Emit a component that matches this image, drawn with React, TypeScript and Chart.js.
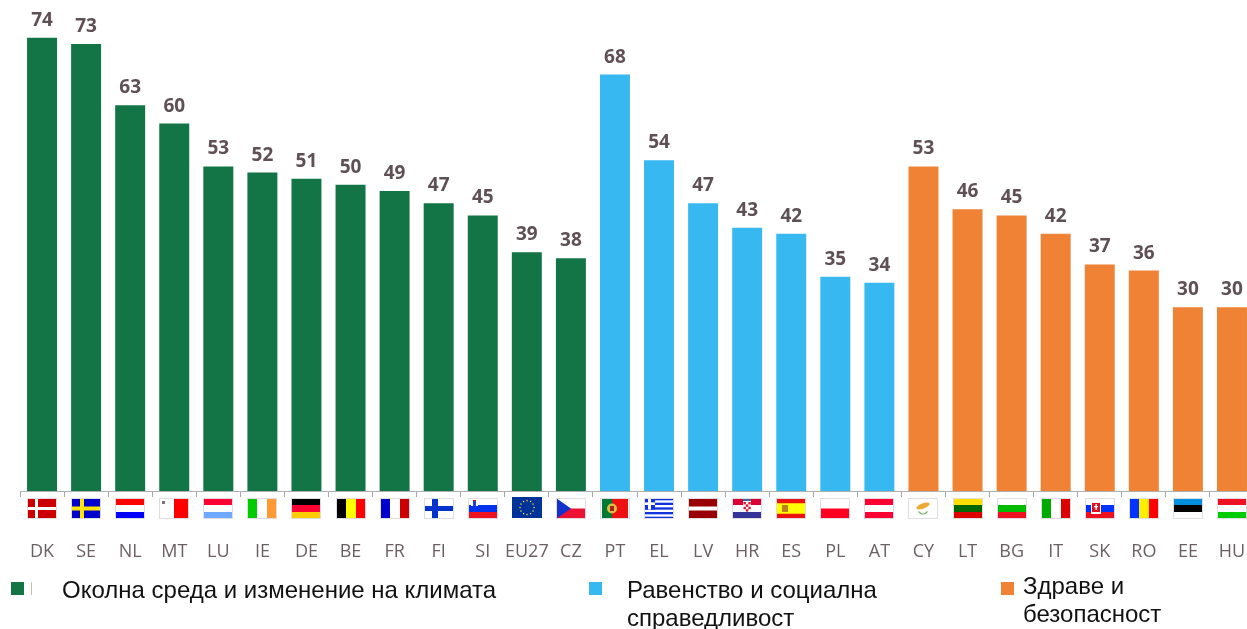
import React, { useEffect, useRef } from "react";
import { Chart, registerables } from "chart.js";

Chart.register(...registerables);

const envLabels = ["DK", "SE", "NL", "MT", "LU", "IE", "DE", "BE", "FR", "FI", "SI", "EU27", "CZ"];
const envValues = [74, 73, 63, 60, 53, 52, 51, 50, 49, 47, 45, 39, 38];
const equalityLabels = ["PT", "EL", "LV", "HR", "ES", "PL", "AT"];
const equalityValues = [68, 54, 47, 43, 42, 35, 34];
const healthLabels = ["CY", "LT", "BG", "IT", "SK", "RO", "EE", "HU"];
const healthValues = [53, 46, 45, 42, 37, 36, 30, 30];

const categories = [...envLabels, ...equalityLabels, ...healthLabels];

const GREEN = "#137545";
const BLUE = "#38b8f0";
const ORANGE = "#ef8234";
const TEXT = "#6b5f63";
const LABEL = "#5e5054";

const pad = (vals: number[], before: number, after: number) => [
  ...Array(before).fill(null),
  ...vals,
  ...Array(after).fill(null),
];

type Ctx = CanvasRenderingContext2D;
const hStripes: Record<string, string[]> = {
  NL: ["#ff0000", "#ffffff", "#0000ff"],
  LU: ["#ff0033", "#ffffff", "#6ea8ff"],
  DE: ["#000000", "#ff0033", "#ffcc00"],
  SI: ["#ffffff", "#0033ee", "#ee1122"],
  HR: ["#dd0033", "#ffffff", "#333399"],
  AT: ["#ff0033", "#ffffff", "#ff0033"],
  PL: ["#ffffff", "#ff0022"],
  LT: ["#ffdd00", "#006600", "#dd0000"],
  BG: ["#ffffff", "#00bb00", "#ee1122"],
  SK: ["#ffffff", "#0033ff", "#ee1122"],
  EE: ["#0090e0", "#000000", "#ffffff"],
  HU: ["#ee1122", "#ffffff", "#00cc00"],
};
const vStripes: Record<string, string[]> = {
  MT: ["#ffffff", "#ff0000"],
  IE: ["#00cc00", "#ffffff", "#ff9933"],
  BE: ["#000000", "#ffff00", "#ff0000"],
  FR: ["#0000cc", "#ffffff", "#cc0000"],
  IT: ["#00aa00", "#ffffff", "#dd0000"],
  RO: ["#0033ff", "#ffee00", "#ff0000"],
};

function drawFlag(c: Ctx, code: string, cx: number, top: number) {
  const w = 30, h = 21;
  const x = Math.round(cx - w / 2), y = top;
  c.save();
  c.fillStyle = "#ffffff";
  c.fillRect(x, y, w, h);
  const r = (a: number, b: number, ww: number, hh: number, col: string) => {
    c.fillStyle = col;
    c.fillRect(x + a, y + b, ww, hh);
  };
  if (code === "LV") {
    r(0, 0, w, 8.5, "#990000");
    r(0, 12.5, w, 8.5, "#990000");
  } else if (hStripes[code]) {
    const s = hStripes[code];
    s.forEach((col, i) => r(0, (i * h) / s.length, w, h / s.length, col));
  } else if (vStripes[code]) {
    const s = vStripes[code];
    s.forEach((col, i) => r((i * w) / s.length, 0, w / s.length, h, col));
  } else if (code === "DK") {
    r(0, 0, w, h, "#cc0000");
    r(8, 0, 3, h, "#ffffff");
    r(0, 9, w, 3, "#ffffff");
  } else if (code === "SE") {
    r(0, 0, w, h, "#0000cc");
    r(9, 0, 4, h, "#ffe600");
    r(0, 8.5, w, 4, "#ffe600");
  } else if (code === "FI") {
    r(8, 0, 6, h, "#0033cc");
    r(0, 8, w, 5, "#0033cc");
  } else if (code === "EU27") {
    r(0, -1, w, h, "#003399");
    c.fillStyle = "#ffdd33";
    for (let i = 0; i < 12; i++) {
      const a = (i * Math.PI) / 6;
      c.fillRect(x + 15 + Math.cos(a) * 7 - 0.6, y + 9.5 + Math.sin(a) * 7 - 0.6, 1.3, 1.3);
    }
  } else if (code === "CZ") {
    r(0, 10.5, w, 10.5, "#ee1133");
    c.fillStyle = "#1133cc";
    c.beginPath();
    c.moveTo(x, y);
    c.lineTo(x + 15, y + 10.5);
    c.lineTo(x, y + 21);
    c.fill();
  } else if (code === "PT") {
    r(2, 0, 10, h, "#007a33");
    r(12, 0, 16, h, "#ee1111");
    c.fillStyle = "#d8c040";
    c.beginPath();
    c.arc(x + 12, y + 10.5, 5, 0, Math.PI * 2);
    c.fill();
    c.fillStyle = "#aa2222";
    c.fillRect(x + 10, y + 8, 4, 5);
  } else if (code === "EL") {
    for (let i = 0; i < 9; i += 2) r(0, (i * h) / 9, w, h / 9, "#1133dd");
    r(0, 0, 11, 11.6, "#1133dd");
    r(4, 0, 3, 11.6, "#ffffff");
    r(0, 4.4, 11, 2.6, "#ffffff");
  } else if (code === "ES") {
    r(0, 0, w, h, "#ee1111");
    r(0, 5.25, w, 10.5, "#ffff00");
    r(6, 7, 6, 7, "#c08020");
  } else if (code === "CY") {
    c.fillStyle = "#eeaa33";
    c.beginPath();
    c.ellipse(x + 15, y + 8, 7, 2.6, -0.35, 0, Math.PI * 2);
    c.fill();
    c.strokeStyle = "#77bb66";
    c.lineWidth = 1.2;
    c.beginPath();
    c.arc(x + 15, y + 11, 5, 0.5, Math.PI - 0.5);
    c.stroke();
  }
  if (code === "MT") {
    r(3, 3, 3, 3, "#777777");
  }
  if (code === "HR") {
    r(11, 3, 8, 11, "#ffffff");
    for (let i = 0; i < 3; i++)
      for (let j = 0; j < 4; j++)
        if ((i + j) % 2 === 0) r(11.5 + i * 2.4, 4 + j * 2.4, 2.4, 2.4, "#dd1133");
    r(11, 1, 8, 2, "#446699");
  }
  if (code === "SI") {
    r(3, 2, 7, 6, "#ffffff");
    r(5, 3, 3, 5, "#2244cc");
    r(5, 2, 3, 1, "#ee1122");
  }
  if (code === "SK") {
    c.fillStyle = "#ffffff";
    c.fillRect(x + 6, y + 4, 10, 12);
    c.fillStyle = "#dd1122";
    c.fillRect(x + 7, y + 5, 8, 9);
    c.fillStyle = "#ffffff";
    c.fillRect(x + 10.5, y + 6, 1.4, 6);
    c.fillRect(x + 9, y + 8, 4, 1.3);
  }
  c.strokeStyle = "#dfdde2";
  c.lineWidth = 1;
  if (code !== "EU27") c.strokeRect(x + 0.5, y + 0.5, w - 1, h - 1);
  c.restore();
}

const flagsPlugin = {
  id: "flags",
  afterDraw(chart: any) {
    const xs = chart.scales.x;
    categories.forEach((code, i) => {
      drawFlag(chart.ctx, code, xs.getPixelForValue(i), xs.top + 7);
    });
  },
};

const valueLabelsPlugin = {
  id: "valueLabels",
  afterDatasetsDraw(chart: any) {
    const c: Ctx = chart.ctx;
    c.save();
    c.font = '700 19px "Open Sans"';
    c.fillStyle = LABEL;
    c.textAlign = "center";
    c.textBaseline = "alphabetic";
    chart.data.datasets.forEach((ds: any, di: number) => {
      chart.getDatasetMeta(di).data.forEach((el: any, i: number) => {
        if (ds.data[i] == null) return;
        c.fillText(String(ds.data[i]), el.x, el.y - 12);
      });
    });
    c.restore();
  },
};

const legendFont = '"Liberation Sans", Arial, sans-serif';
const legendItems = [
  { lines: ["Околна среда и изменение на климата"], color: GREEN, sx: 11, tx: 62, top: 576, sy: 582 },
  { lines: ["Равенство и социална", "справедливост"], color: BLUE, sx: 589, tx: 627, top: 576, sy: 582 },
  { lines: ["Здраве и", "безопасност"], color: ORANGE, sx: 1001, tx: 1023, top: 572, sy: 582 },
];

export default function App() {
  const ref = useRef<HTMLCanvasElement>(null);
  useEffect(() => {
    document.body.style.margin = "0";
    const chart = new Chart(ref.current!, {
      type: "bar",
      data: {
        labels: categories,
        datasets: [
          { label: "Околна среда и изменение на климата", data: pad(envValues, 0, 15), backgroundColor: GREEN },
          { label: "Равенство и социална справедливост", data: pad(equalityValues, 13, 8), backgroundColor: BLUE },
          { label: "Здраве и безопасност", data: pad(healthValues, 20, 0), backgroundColor: ORANGE },
        ],
      },
      options: {
        responsive: false,
        animation: false,
        layout: { padding: { left: 20, top: 1, right: 0, bottom: 0 } },
        datasets: { bar: { grouped: false, barPercentage: 0.68, categoryPercentage: 1 } },
        plugins: { legend: { display: false }, tooltip: { enabled: false }, title: { display: false } },
        scales: {
          y: { display: false, min: 0, max: 80 },
          x: {
            afterFit(scale: any) {
              scale.height = 138;
              scale.paddingLeft = 0;
              scale.paddingRight = 0;
            },
            grid: { offset: true, drawOnChartArea: false, drawTicks: true, tickLength: 6, color: "#a8a8a8" },
            border: { color: "#b0b0b0", width: 1 },
            ticks: {
              autoSkip: false,
              maxRotation: 0,
              padding: 44,
              color: TEXT,
              font: { family: "Open Sans", size: 18 },
            },
          },
        },
      },
      plugins: [flagsPlugin, valueLabelsPlugin],
    } as any);
    return () => chart.destroy();
  }, []);

  return (
    <div style={{ position: "absolute", left: 0, top: 0, width: 1247, height: 629, overflow: "hidden", background: "#fff" }}>
      <canvas ref={ref} width={1254} height={629} style={{ display: "block" }} />
      {legendItems.map((it) => (
        <React.Fragment key={it.tx}>
          <div style={{ position: "absolute", left: it.sx, top: it.sy, width: 13, height: 13, background: it.color }} />
          <div
            style={{
              position: "absolute",
              left: it.tx,
              top: it.top,
              fontFamily: legendFont,
              fontSize: 24,
              lineHeight: "28px",
              color: "#111",
              whiteSpace: "nowrap",
            }}
          >
            {it.lines.map((l) => (
              <div key={l}>{l}</div>
            ))}
          </div>
        </React.Fragment>
      ))}
      <div style={{ position: "absolute", left: 31, top: 582, width: 1, height: 13, background: "#d9b9a3" }} />
    </div>
  );
}
